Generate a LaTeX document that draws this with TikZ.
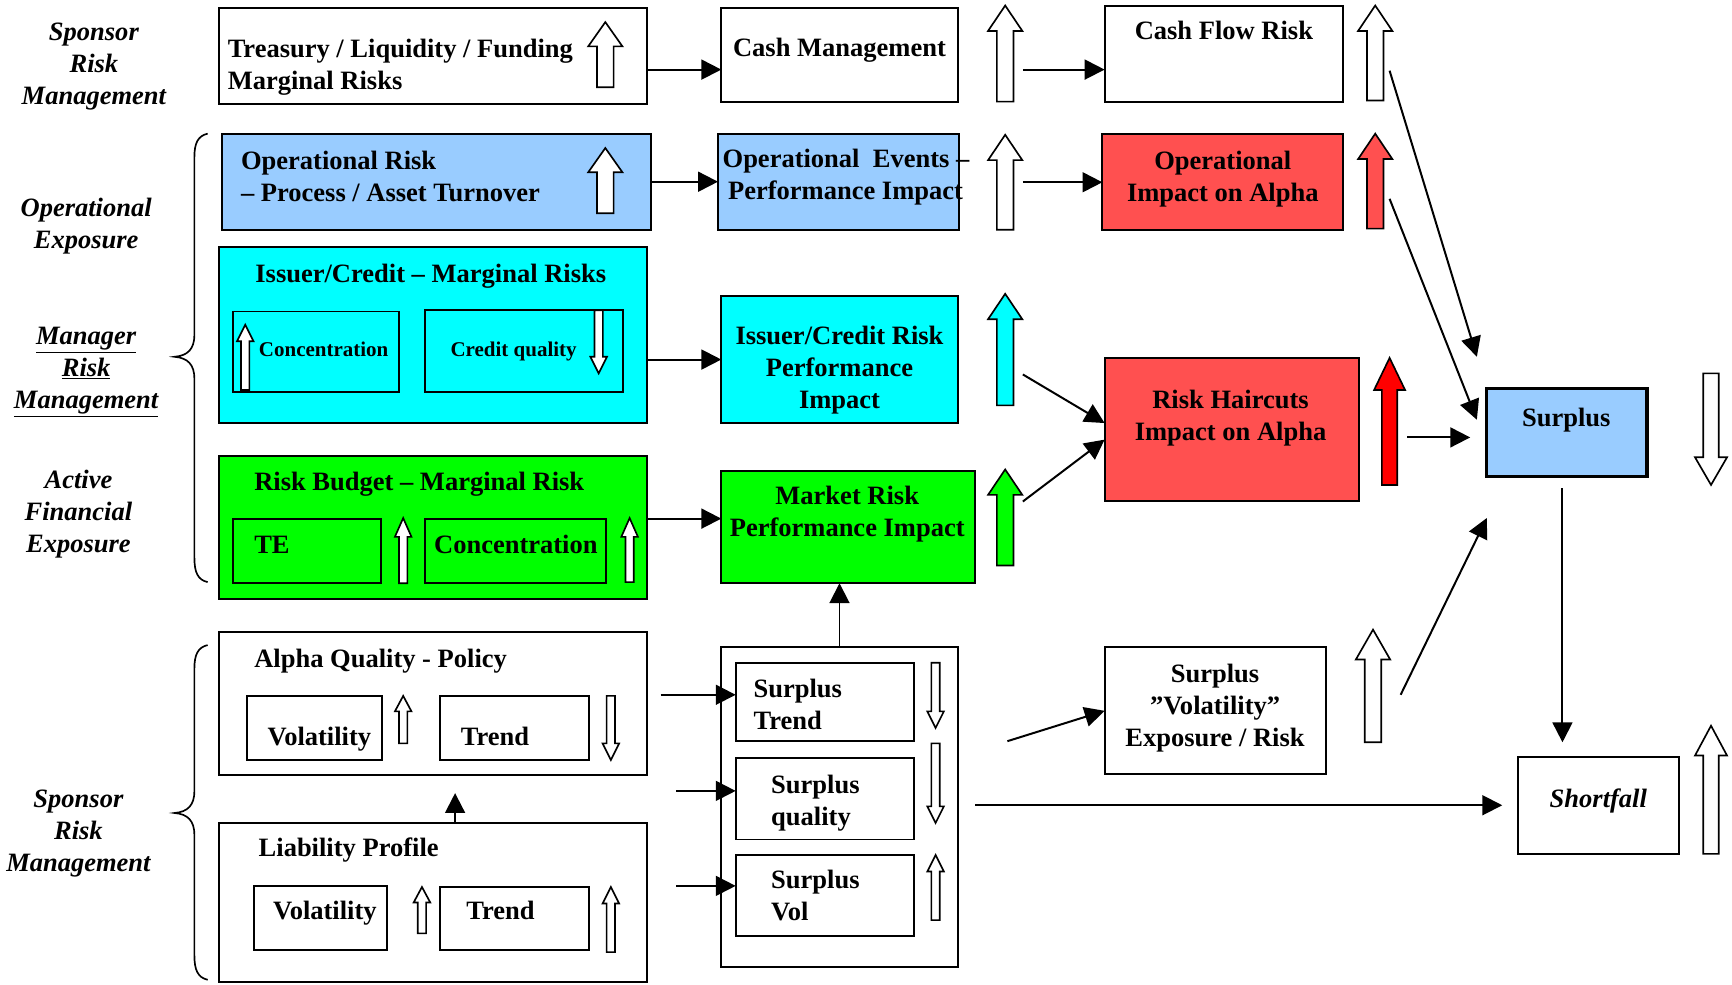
\documentclass[tikz,border=0pt]{standalone}
\usepackage{fontspec}
\setmainfont{Liberation Serif}
\usetikzlibrary{arrows.meta}
\definecolor{paleblue}{HTML}{99CCFF}
\definecolor{aqua}{HTML}{00FFFF}
\definecolor{lime}{HTML}{00FF00}
\definecolor{softred}{HTML}{FF5050}
\definecolor{brightred}{HTML}{FF0000}

% rectangle node given by its top-left and bottom-right corners
\newcommand\boxat[6]{\node[#2, anchor=north west, minimum width={#5-#3}, minimum height={#6-#4}] (#1) at (#3,#4) {};}
% block arrows: fill, centre x, top y, bottom y, half shaft, half head, head length
\newcommand\blockup[7]{\draw[blockarrow, fill=#1] ({#2-#5},#4) -- ({#2-#5},{#3+#7}) -- ({#2-#6},{#3+#7}) -- (#2,#3) -- ({#2+#6},{#3+#7}) -- ({#2+#5},{#3+#7}) -- ({#2+#5},#4) -- cycle;}
\newcommand\blockdown[7]{\draw[blockarrow, fill=#1] ({#2-#5},#3) -- ({#2-#5},{#4-#7}) -- ({#2-#6},{#4-#7}) -- (#2,#4) -- ({#2+#6},{#4-#7}) -- ({#2+#5},{#4-#7}) -- ({#2+#5},#3) -- cycle;}

\tikzset{
  bx/.style={draw, line width=1.8pt, inner sep=0pt, outer sep=0pt},
  blockarrow/.style={draw, line width=1.5pt, line join=miter},
  conn/.style={line width=1.8pt, -{Triangle[length=18pt,width=18pt]}},
  txt/.style={font=\bfseries\fontsize{24}{29}\selectfont, inner sep=0pt, align=left},
  txtc/.style={txt, align=center},
  small/.style={font=\bfseries\fontsize{19}{23}\selectfont, inner sep=0pt},
  side/.style={font=\bfseries\itshape\fontsize{24}{29}\selectfont, inner sep=0pt, align=center},
  brace/.style={line width=1.5pt}
}

\begin{document}
\begin{tikzpicture}[x=1pt, y=-1pt]
\fill[white] (0,0) rectangle (1568,891);
\useasboundingbox (0,0) rectangle (1568,891);

% ---------- side labels and braces (multi-line nodes anchored at their last baseline) ----------
\node[side, anchor=base] (lSponsorTop) at (85,95) {Sponsor\\Risk\\Management};
\node[side, anchor=base] (lOper) at (78,225) {Operational\\Exposure};
\node[side, anchor=base] (lManager) at (78,370) {\underline{Manager}\\\underline{Risk}\\\underline{Management}};
\node[side, anchor=base] (lActive) at (71,500) {Active\\Financial\\Exposure};
\node[side, anchor=base] (lSponsorLow) at (71,789) {Sponsor\\Risk\\Management};

\draw[brace] (188,121) .. controls (179,123) and (176,130) .. (176,142) -- (176,303)
  .. controls (176,316) and (170,322) .. (158,323)
  .. controls (170,324) and (176,330) .. (176,343) -- (176,505)
  .. controls (176,518) and (179,525) .. (188,527);
\draw[brace] (188,584) .. controls (179,586) and (176,593) .. (176,605) -- (176,716)
  .. controls (176,729) and (170,735) .. (158,736)
  .. controls (170,737) and (176,743) .. (176,756) -- (176,865)
  .. controls (176,878) and (179,885) .. (188,887);

% ---------- boxes ----------
\boxat{treasury}{bx, fill=white}{198}{7}{586}{94}
\boxat{cashmgmt}{bx, fill=white}{653}{7}{867}{92}
\boxat{cashflow}{bx, fill=white}{1000}{5}{1216}{92}
\boxat{oprisk}{bx, fill=paleblue}{201}{121}{589}{208}
\boxat{opevents}{bx, fill=paleblue}{650}{121}{868}{208}
\boxat{opimpact}{bx, fill=softred}{998}{121}{1216}{208}
\boxat{issuer}{bx, fill=aqua}{198}{224}{586}{383}
\boxat{concA}{bx, fill=aqua}{211}{282}{361}{355}
\boxat{credq}{bx, fill=aqua}{385}{281}{564}{355}
\boxat{issuerperf}{bx, fill=aqua}{653}{268}{867}{383}
\boxat{riskbudget}{bx, fill=lime}{198}{413}{586}{542}
\boxat{te}{bx, fill=lime}{211}{470}{345}{528}
\boxat{concB}{bx, fill=lime}{385}{470}{549}{528}
\boxat{market}{bx, fill=lime}{653}{426}{883}{528}
\boxat{haircuts}{bx, fill=softred}{1000}{324}{1230}{454}
\boxat{surplus}{bx, line width=2.8pt, fill=paleblue}{1346}{352}{1491}{431}
\boxat{alpha}{bx, fill=white}{198}{572}{586}{702}
\boxat{avol}{bx, fill=white}{224}{630}{346}{688}
\boxat{atrend}{bx, fill=white}{398}{630}{533}{688}
\boxat{liab}{bx, fill=white}{198}{745}{586}{889}
\boxat{lvol}{bx, fill=white}{230}{802}{350}{860}
\boxat{ltrend}{bx, fill=white}{398}{803}{533}{860}
\boxat{container}{bx, fill=white}{653}{586}{867}{875}
\boxat{strend}{bx, fill=white}{666}{600}{827}{671}
\boxat{squal}{bx, fill=white}{666}{686}{827}{760}
\boxat{svol}{bx, fill=white}{666}{774}{827}{847}
\boxat{svolexp}{bx, fill=white}{1000}{586}{1200}{701}
\boxat{shortfall}{bx, fill=white}{1374}{685}{1520}{773}

% ---------- texts ----------
\node[txt, anchor=base west] (tTreasury) at (206,81) {Treasury / Liquidity / Funding\\Marginal Risks};
\node[txtc, anchor=base] (tCashMgmt) at (760,51) {Cash Management};
\node[txtc, anchor=base] (tCashFlow) at (1108,36) {Cash Flow Risk};
\node[txt, anchor=base west] (tOpRisk) at (218,182) {Operational Risk\\– Process / Asset Turnover};
\node[txt, anchor=base west] (tOpEvents) at (654,181) {Operational\ \ Events –\\\hspace*{5pt}Performance Impact};
\node[txtc, anchor=base] (tOpImpact) at (1107,182) {Operational\\Impact on Alpha};
\node[txtc, anchor=base] (tIssuer) at (390,256) {Issuer/Credit – Marginal Risks};
\node[small, anchor=base] (tConcA) at (293,323) {Concentration};
\node[small, anchor=base] (tCredQ) at (465,323) {Credit quality};
\node[txtc, anchor=base] (tIssuerPerf) at (760,370) {Issuer/Credit Risk\\Performance\\Impact};
\node[txt, anchor=base west] (tRiskBudget) at (230,444) {Risk Budget – Marginal Risk};
\node[txt, anchor=base west] (tTE) at (230,501) {TE};
\node[txtc, anchor=base] (tConcB) at (467,501) {Concentration};
\node[txtc, anchor=base] (tMarket) at (767,486) {Market Risk\\Performance Impact};
\node[txtc, anchor=base] (tHaircuts) at (1114,399) {Risk Haircuts\\Impact on Alpha};
\node[txtc, anchor=base] (tSurplus) at (1418,386) {Surplus};
\node[side, anchor=base] (tShortfall) at (1447,731) {Shortfall};
\node[txt, anchor=base west] (tAlpha) at (230,604) {Alpha Quality - Policy};
\node[txt, anchor=base west] (tAVol) at (242,675) {Volatility};
\node[txt, anchor=base west] (tATrend) at (417,675) {Trend};
\node[txt, anchor=base west] (tLiab) at (234,775) {Liability Profile};
\node[txt, anchor=base west] (tLVol) at (247,832) {Volatility};
\node[txt, anchor=base west] (tLTrend) at (422,832) {Trend};
\node[txt, anchor=base west] (tSTrend) at (682,660) {Surplus\\Trend};
\node[txt, anchor=base west] (tSQual) at (698,747) {Surplus\\quality};
\node[txt, anchor=base west] (tSVol) at (698,833) {Surplus\\Vol};
\node[txtc, anchor=base] (tSVolExp) at (1100,676) {Surplus\\”Volatility”\\Exposure / Risk};

% ---------- block arrows ----------
\blockup{white}{548}{20}{79}{7.5}{15.5}{22}
\blockup{white}{548}{134}{193}{7.5}{15.5}{22}
\blockup{white}{910}{5}{92}{7.5}{15.5}{23}
\blockup{white}{1245}{5}{91}{7.5}{15.5}{23}
\blockup{white}{910}{122}{208}{7.5}{15.5}{23}
\blockup{softred}{1245}{121}{207}{7.5}{15.5}{23}
\blockup{aqua}{910}{266}{367}{7.5}{15.5}{23}
\blockup{lime}{910}{425}{512}{7.5}{15.5}{23}
\blockup{brightred}{1258}{324}{439}{7}{14}{29}
\blockdown{white}{1549}{338}{439}{7}{14.5}{25}
\blockup{white}{1243}{570}{672}{7.5}{15.5}{27}
\blockup{white}{1549}{657}{773}{7}{14.5}{27}
\blockup{white}{222}{294}{353}{3.8}{7.5}{15}
\blockdown{white}{542}{281}{338}{3.8}{7.5}{15}
\blockup{white}{365}{469}{528}{3.8}{7.5}{17}
\blockup{white}{570}{469}{527}{3.8}{7.5}{17}
\blockup{white}{365}{630}{673}{3.8}{7.5}{14}
\blockdown{white}{553}{630}{688}{3.8}{7.5}{15}
\blockup{white}{382}{803}{845}{3.8}{7.5}{14}
\blockup{white}{553}{803}{862}{3.8}{7.5}{15}
\blockdown{white}{847}{600}{659}{3.8}{7.5}{15}
\blockdown{white}{847}{673}{745}{3.8}{7.5}{15}
\blockup{white}{847}{774}{833}{3.8}{7.5}{15}

% ---------- connectors ----------
\coordinate (cashStart) at (926,63);
\coordinate (flowStart) at (1258,64);
\coordinate (flowEnd) at (1337,323);
\coordinate (opStart) at (926,165);
\coordinate (opImpStart) at (1258,180);
\coordinate (opImpEnd) at (1337,380);
\coordinate (credStart) at (926,339);
\coordinate (mktStart) at (926,454);
\coordinate (hairStart) at (1274,396);
\coordinate (trendStart) at (598,629);
\coordinate (qualStart) at (612,716);
\coordinate (volStart) at (612,802);
\coordinate (expStart) at (912,671);
\coordinate (riskStart) at (1268,629);
\coordinate (riskEnd) at (1346,469);

\draw[conn] ([yshift=-12.5pt]treasury.east) -- ([yshift=-12.5pt]treasury.east -| cashmgmt.west);
\draw[conn] (cashStart) -- (cashStart -| cashflow.west);
\draw[conn] (flowStart) -- (flowEnd);
\draw[conn] (oprisk.east) -- (oprisk.east -| opevents.west);
\draw[conn] (opStart) -- (opStart -| opimpact.west);
\draw[conn] (opImpStart) -- (opImpEnd);
\draw[conn] (issuer.east |- issuerperf.west) -- (issuerperf.west);
\draw[conn] ([yshift=8pt]riskbudget.east) -- ([yshift=8pt]riskbudget.east -| market.west);
\draw[conn] (credStart) -- ([yshift=6pt]haircuts.west);
\draw[conn] (mktStart) -- ([yshift=-9pt]haircuts.west);
\draw[conn, shorten >=15pt] (hairStart) -- (hairStart -| surplus.west);
\draw[conn, shorten <=11pt, shorten >=13pt] ([xshift=-4pt]surplus.south) -- ([xshift=-4pt]surplus.south |- shortfall.north);
\draw[conn] (container.north) -- (container.north |- market.south);
\draw[conn, shorten >=16pt] ([xshift=20pt]liab.north) -- ([xshift=20pt]alpha.south);
\draw[conn] (trendStart) -- (trendStart -| strend.west);
\draw[conn] (qualStart) -- (qualStart -| squal.west);
\draw[conn] (volStart) -- (volStart -| svol.west);
\draw[conn] (expStart) -- (svolexp.west);
\draw[conn] (riskStart) -- (riskEnd);
\draw[conn, shorten <=16pt, shorten >=14pt] (container.east |- shortfall.west) -- (shortfall.west);
\end{tikzpicture}
\end{document}
